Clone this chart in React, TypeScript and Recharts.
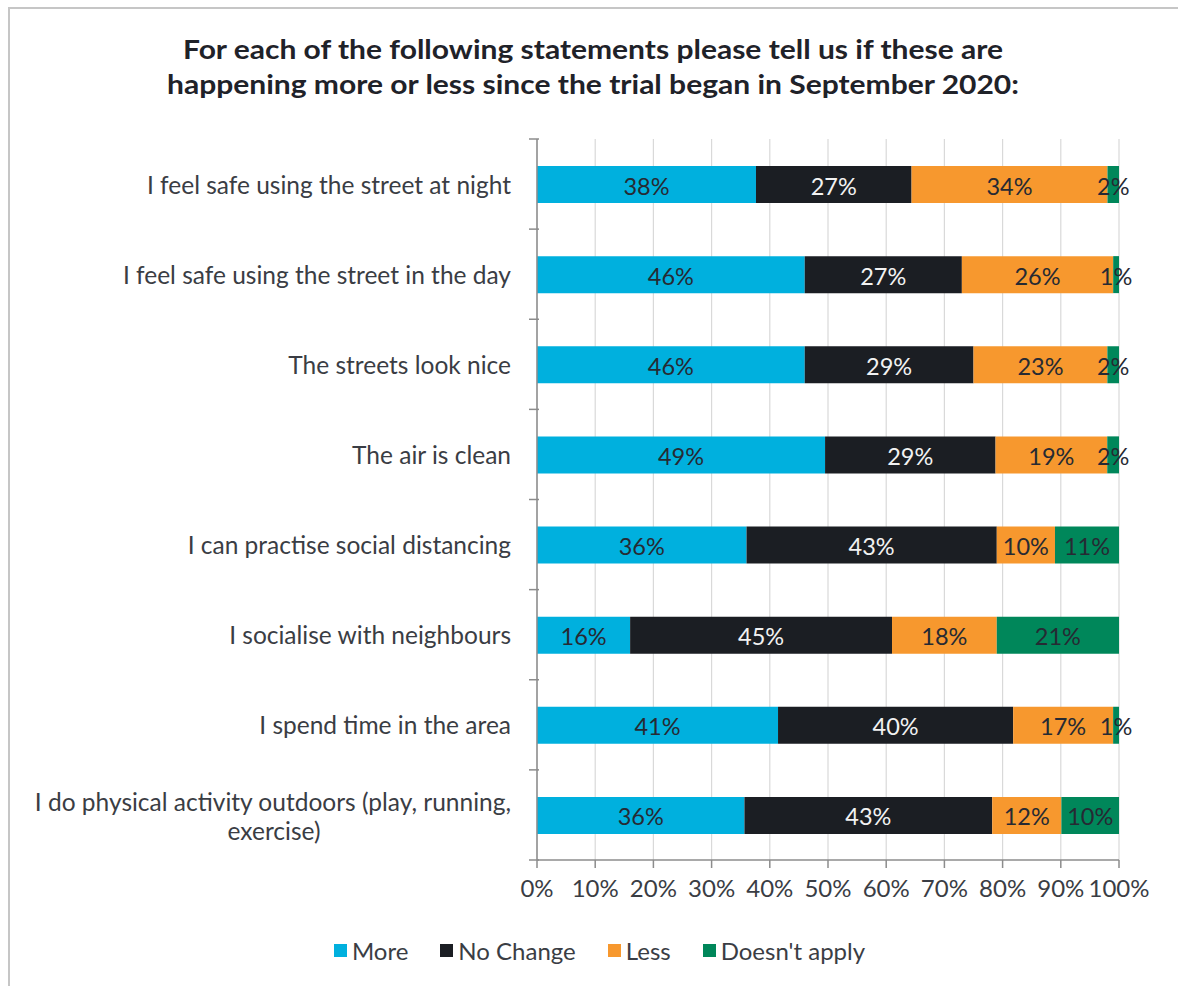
import { BarChart, Bar, XAxis, YAxis, CartesianGrid, Legend, LabelList } from "recharts";

const categories = [
  "I feel safe using the street at night",
  "I feel safe using the street in the day",
  "The streets look nice",
  "The air is clean",
  "I can practise social distancing",
  "I socialise with neighbours",
  "I spend time in the area",
  "I do physical activity outdoors (play, running, exercise)",
];
const more = [38, 46, 46, 49, 36, 16, 41, 36];
const noChange = [27, 27, 29, 29, 43, 45, 40, 43];
const less = [34, 26, 23, 19, 10, 18, 17, 12];
const doesntApply = [2, 1, 2, 2, 11, 21, 1, 10];
const xTicks = [0, 0.1, 0.2, 0.3, 0.4, 0.5, 0.6, 0.7, 0.8, 0.9, 1];

const titleLines = [
  "For each of the following statements please tell us if these are",
  "happening more or less since the trial began in September 2020:",
];

const data = categories.map((name, i) => ({
  name,
  more: more[i],
  noChange: noChange[i],
  less: less[i],
  doesntApply: doesntApply[i],
}));

const series = [
  { key: "more", label: "More", color: "#00b0de", text: "#262a33" },
  { key: "noChange", label: "No Change", color: "#1b1e23", text: "#f2f2f2" },
  { key: "less", label: "Less", color: "#f7982e", text: "#262a33" },
  { key: "doesntApply", label: "Doesn't apply", color: "#00875a", text: "#262a33" },
];

const W = 1178;
const H = 986;
const TOP = 139;
const BOTTOM = 860;
const BAND = (BOTTOM - TOP) / categories.length;
const FONT = "Lato, 'Open Sans', sans-serif";
const AXIS = "#8c8c8c";
const TEXT = "#3a3d44";

function CategoryTick(props: any) {
  const { x, y, payload, index } = props;
  const label: string = payload.value;
  const axisX = x + 10;
  let text;
  if (label.startsWith("I do physical")) {
    text = (
      <text fontSize={24.5} fill={TEXT} fontFamily={FONT}>
        <tspan x={x - 18} y={y - 13} textAnchor="end" dominantBaseline="central">
          I do physical activity outdoors (play, running,
        </tspan>
        <tspan x={274} y={y + 16} textAnchor="middle" dominantBaseline="central">
          exercise)
        </tspan>
      </text>
    );
  } else {
    text = (
      <text x={x - 18} y={y} textAnchor="end" dominantBaseline="central" fontSize={24.5} fill={TEXT} fontFamily={FONT}>
        {label}
      </text>
    );
  }
  return (
    <g>
      <line x1={axisX - 10} x2={axisX} y1={y - BAND / 2} y2={y - BAND / 2} stroke={AXIS} strokeWidth={1.5} />
      {index === categories.length - 1 && (
        <line x1={axisX - 10} x2={axisX} y1={y + BAND / 2} y2={y + BAND / 2} stroke={AXIS} strokeWidth={1.5} />
      )}
      {text}
    </g>
  );
}

function makeLabel(color: string) {
  return (props: any) => {
    const { x, y, width, height, value } = props;
    return (
      <text
        x={x + width / 2}
        y={y + height / 2 + 1}
        textAnchor="middle"
        dominantBaseline="central"
        fontSize={23.5}
        fill={color}
        fontFamily={FONT}
      >
        {value}%
      </text>
    );
  };
}

function LegendContent() {
  return (
    <div style={{ display: "flex", justifyContent: "center", gap: 32, paddingLeft: 80, fontFamily: FONT, fontSize: 24, color: TEXT }}>
      {series.map((s) => (
        <span key={s.key} style={{ display: "inline-flex", alignItems: "center" }}>
          <span style={{ width: 13, height: 13, background: s.color, display: "inline-block", marginRight: 5 }} />
          {s.label}
        </span>
      ))}
    </div>
  );
}

export default function App() {
  return (
    <div style={{ position: "relative", width: W, height: H, overflow: "hidden", background: "#fff" }}>
      <style>{`body{margin:0}`}</style>
      <div style={{ position: "absolute", left: 8, top: 7, width: 1400, height: 1200, border: "2px solid #c6c6c6" }} />
      <div style={{ position: "absolute", left: 0, top: 0 }}>
        <BarChart
          width={W}
          height={H}
          data={data}
          layout="vertical"
          stackOffset="expand"
          barSize={37}
          margin={{ top: TOP, right: 59, bottom: 20, left: 0 }}
        >
          <text textAnchor="middle" fontFamily={FONT} fontWeight={700} fontSize={27} fill="#1f2229">
            <tspan x={593} y={59} textLength={820} lengthAdjust="spacingAndGlyphs">{titleLines[0]}</tspan>
          </text>
          <text textAnchor="middle" fontFamily={FONT} fontWeight={700} fontSize={27} fill="#1f2229">
            <tspan x={593} y={94} textLength={852} lengthAdjust="spacingAndGlyphs">{titleLines[1]}</tspan>
          </text>
          <CartesianGrid horizontal={false} stroke="#d9d9d9" strokeWidth={1.2} />
          <XAxis
            type="number"
            domain={[0, 1]}
            ticks={xTicks}
            tickFormatter={(v: number) => `${Math.round(v * 100)}%`}
            axisLine={{ stroke: AXIS, strokeWidth: 1.5 }}
            tickLine={{ stroke: AXIS, strokeWidth: 1.5 }}
            tickSize={8}
            tickMargin={12}
            height={76}
            tick={{ fontSize: 24, fill: TEXT, fontFamily: FONT }}
            interval={0}
          />
          <YAxis
            type="category"
            dataKey="name"
            width={537}
            axisLine={{ stroke: AXIS, strokeWidth: 1.5 }}
            tickLine={false}
            tick={<CategoryTick />}
            interval={0}
          />
          <Legend verticalAlign="bottom" height={30} content={<LegendContent />} />
          {series.map((s) => (
            <Bar key={s.key} dataKey={s.key} name={s.label} stackId="a" fill={s.color} isAnimationActive={false}>
              <LabelList dataKey={s.key} content={makeLabel(s.text)} />
            </Bar>
          ))}
        </BarChart>
      </div>
    </div>
  );
}
